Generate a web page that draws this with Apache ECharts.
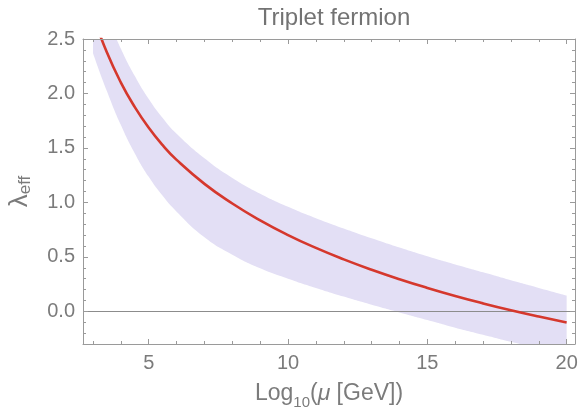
<!DOCTYPE html>
<html>
<head>
<meta charset="utf-8">
<script src="https://cdn.jsdelivr.net/npm/echarts@6/dist/echarts.min.js"></script>
<style>html,body{margin:0;padding:0;background:#fff}#c{width:582px;height:410px}</style>
</head>
<body>
<div id="c"></div>
<script>
// ---- data ----
const xs         = [3, 3.5, 4, 4.5, 5, 5.5, 6, 7, 8, 9, 10, 11, 12, 13, 14, 15, 16, 17, 18, 19, 20];
const lambdaEff  = [2.715, 2.375, 2.10, 1.875, 1.685, 1.525, 1.39, 1.17, 0.99, 0.835, 0.70, 0.582, 0.477, 0.382, 0.295, 0.215, 0.141, 0.073, 0.01, -0.048, -0.102];
const bandUpper  = [3.08, 2.715, 2.41, 2.16, 1.95, 1.775, 1.63, 1.405, 1.225, 1.08, 0.96, 0.855, 0.76, 0.67, 0.585, 0.505, 0.43, 0.358, 0.285, 0.215, 0.145];
const bandLower  = [2.37, 2.02, 1.71, 1.45, 1.235, 1.06, 0.915, 0.68, 0.52, 0.395, 0.30, 0.215, 0.135, 0.06, -0.01, -0.08, -0.15, -0.215, -0.28, -0.34, -0.40];
const xMajorTicks = [5, 10, 15, 20];
const xMinorTicks = [3, 4, 6, 7, 8, 9, 11, 12, 13, 14, 16, 17, 18, 19];
const yMajorTicks = [0, 0.5, 1, 1.5, 2, 2.5];
const yMinorTicks = [-0.2, -0.1, 0.1, 0.2, 0.3, 0.4, 0.6, 0.7, 0.8, 0.9, 1.1, 1.2, 1.3, 1.4, 1.6, 1.7, 1.8, 1.9, 2.1, 2.2, 2.3, 2.4];
const titleText = 'Triplet fermion';

const FONT = '"Liberation Sans", Arial, sans-serif';
const FRAME = '#9a9a9a';
const LBL = '#7b7b7b';
const xMin = 2.64, xMax = 20.3, yMin = -0.3, yMax = 2.5;
const SMOOTH = 0.5;

const chart = echarts.init(document.getElementById('c'), null, {renderer: 'canvas'});

function ax(type, pos, ticks, len, line) {
  return {
    type: 'value', position: pos, z: 10,
    min: type === 'x' ? xMin : yMin, max: type === 'x' ? xMax : yMax,
    splitLine: {show: false},
    axisLine: {show: line, onZero: false, lineStyle: {color: FRAME, width: 1}},
    axisTick: {show: true, inside: true, length: len, customValues: ticks, lineStyle: {color: FRAME, width: 1}},
    axisLabel: {show: false}
  };
}

const xBottom = ax('x', 'bottom', xMajorTicks, 5, true);
xBottom.axisLabel = {show: true, customValues: xMajorTicks, margin: 9, fontSize: 20, color: LBL, fontFamily: FONT};
xBottom.name = '{a|Log}{s|10}{a|(}{m|μ}{a| [GeV])}';
xBottom.nameLocation = 'middle';
xBottom.nameGap = 38;
xBottom.nameTextStyle = {
  color: LBL, fontFamily: FONT,
  rich: {
    a: {fontSize: 23, lineHeight: 22, verticalAlign: 'top', color: LBL, fontFamily: FONT},
    m: {fontSize: 23, lineHeight: 22, verticalAlign: 'top', fontStyle: 'italic', color: LBL, fontFamily: FONT},
    s: {fontSize: 15, lineHeight: 28, verticalAlign: 'bottom', color: LBL, fontFamily: FONT}
  }
};

const yLeft = ax('y', 'left', yMajorTicks, 5, true);
yLeft.axisLabel = {show: true, customValues: yMajorTicks, margin: 8, fontSize: 20, color: LBL, fontFamily: FONT,
  formatter: v => v.toFixed(1)};
yLeft.name = '{l|λ}{s|eff}';
yLeft.nameLocation = 'middle';
yLeft.nameRotate = 90;
yLeft.nameGap = 49;
yLeft.nameTextStyle = {
  color: LBL, fontFamily: FONT,
  rich: {
    l: {fontSize: 26, lineHeight: 26, verticalAlign: 'top', color: LBL, fontFamily: FONT},
    s: {fontSize: 17, lineHeight: 27, verticalAlign: 'bottom', color: LBL, fontFamily: FONT}
  }
};

const option = {
  animation: false,
  backgroundColor: '#ffffff',
  title: {
    text: titleText, left: 329, top: 1, textAlign: 'center',
    textStyle: {fontSize: 24, fontWeight: 'normal', color: '#737373', fontFamily: FONT}
  },
  grid: {left: 83, right: 7, top: 39, bottom: 66, containLabel: false, outerBoundsMode: 'none'},
  xAxis: [
    xBottom,
    ax('x', 'bottom', xMinorTicks, 3, false),
    ax('x', 'top', xMajorTicks, 5, true),
    ax('x', 'top', xMinorTicks, 3, false)
  ],
  yAxis: [
    yLeft,
    ax('y', 'left', yMinorTicks, 3, false),
    ax('y', 'right', yMajorTicks, 5, true),
    ax('y', 'right', yMinorTicks, 3, false)
  ],
  series: [
    {
      // upper edge of the band, filled down to the bottom of the plot
      type: 'line', name: 'bandUpper', z: 1,
      data: xs.map((x, i) => [x, bandUpper[i]]),
      symbol: 'none', smooth: SMOOTH,
      lineStyle: {width: 0, opacity: 0},
      areaStyle: {color: '#e3dff5', opacity: 1, origin: 'start'},
      silent: true, clip: true
    },
    {
      // lower edge of the band, white fill below it cuts the band out
      type: 'line', name: 'bandLower', z: 2,
      data: xs.map((x, i) => [x, bandLower[i]]),
      symbol: 'none', smooth: SMOOTH,
      lineStyle: {width: 0, opacity: 0},
      areaStyle: {color: '#ffffff', opacity: 1, origin: 'start'},
      silent: true, clip: true,
      markLine: {
        silent: true, symbol: 'none', z: 3,
        label: {show: false},
        lineStyle: {color: '#8c8c8c', width: 1, type: 'solid'},
        data: [{yAxis: 0}]
      }
    },
    {
      type: 'line', name: 'lambda', z: 5,
      data: xs.map((x, i) => [x, lambdaEff[i]]),
      symbol: 'none', smooth: SMOOTH,
      lineStyle: {color: '#d5382d', width: 2.6},
      clip: true
    }
  ]
};
chart.setOption(option);
</script>
</body>
</html>
